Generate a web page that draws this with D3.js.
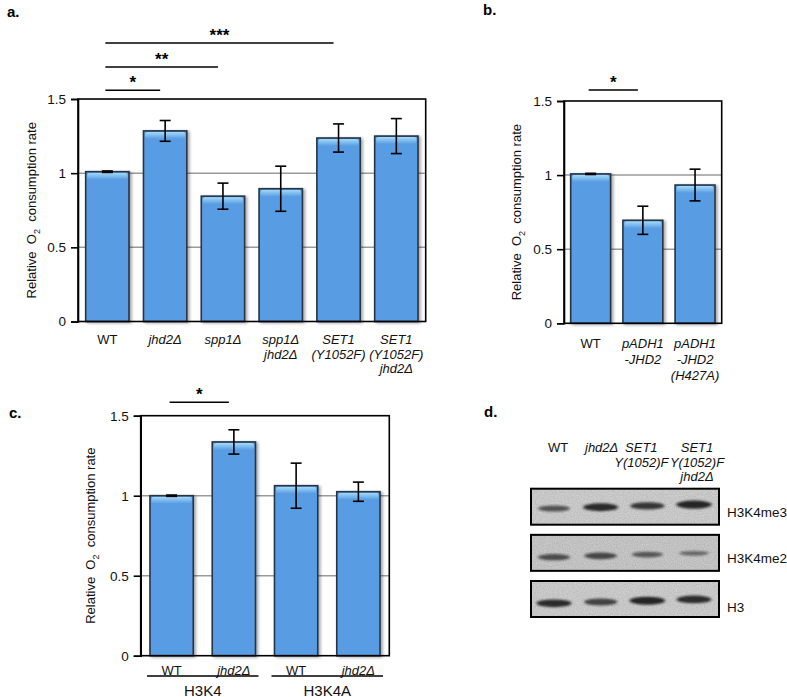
<!DOCTYPE html>
<html><head><meta charset="utf-8">
<script src="https://cdn.jsdelivr.net/npm/d3@7"></script>
<style>
html,body{margin:0;padding:0;background:#fff;}
text{font-family:"Liberation Sans",Arial,sans-serif;}
</style></head>
<body>
<svg id="fig" width="787" height="697"></svg>
<script>
// ---------------- DATA ----------------
const yTicks = [0, 0.5, 1, 1.5];

const aLabels = [["WT"], ["jhd2Δ"], ["spp1Δ"], ["spp1Δ", "jhd2Δ"], ["SET1", "(Y1052F)"], ["SET1", "(Y1052F)", "jhd2Δ"]];
const aValues = [1.01, 1.285, 0.845, 0.895, 1.237, 1.25];
const aErrors = [0.005, 0.07, 0.088, 0.152, 0.095, 0.118];
const aSig = [[0, 1, "*"], [0, 2, "**"], [0, 4, "***"]];

const bLabels = [["WT"], ["pADH1", "-JHD2"], ["pADH1", "-JHD2", "(H427A)"]];
const bValues = [1.008, 0.695, 0.933];
const bErrors = [0.004, 0.095, 0.107];
const bSig = [[0, 1, "*"]];

const cLabels = [["WT"], ["jhd2Δ"], ["WT"], ["jhd2Δ"]];
const cGroups = ["H3K4", "H3K4A"];
const cValues = [1.0, 1.336, 1.0625, 1.025];
const cErrors = [0.004, 0.076, 0.141, 0.06];
const cSig = [[0, 1, "*"]];

const dLanes = [["WT"], ["jhd2Δ"], ["SET1", "Y(1052)F"], ["SET1", "Y(1052)F", "jhd2Δ"]];
const dRows = ["H3K4me3", "H3K4me2", "H3"];
const dIntensity = [
  [0.55, 0.9, 0.8, 0.95],
  [0.6, 0.65, 0.5, 0.3],
  [0.9, 0.7, 0.95, 0.88]
];

const yTitle = ["Relative", "O", "2", "consumption rate"];

// ---------------- DRAWING ----------------
const FS = 13;
const svg = d3.select("#fig");
svg.append("rect").attr("width", 787).attr("height", 697).attr("fill", "#fff");

const defs = svg.append("defs");
const hl = defs.append("linearGradient").attr("id", "hl").attr("x1", 0).attr("x2", 0).attr("y1", 0).attr("y2", 1);
hl.append("stop").attr("offset", "0%").attr("stop-color", "#a4daf9");
hl.append("stop").attr("offset", "100%").attr("stop-color", "#589ce3");
const sh = defs.append("filter").attr("id", "shadow").attr("x", "-20%").attr("y", "-20%").attr("width", "150%").attr("height", "150%");
sh.append("feGaussianBlur").attr("in", "SourceAlpha").attr("stdDeviation", 1.5).attr("result", "b");
sh.append("feOffset").attr("in", "b").attr("dx", 1.5).attr("dy", 1).attr("result", "o");
sh.append("feComponentTransfer").attr("in", "o").attr("result", "o2")
  .append("feFuncA").attr("type", "linear").attr("slope", 0.35);
const shm = sh.append("feMerge");
shm.append("feMergeNode").attr("in", "o2");
shm.append("feMergeNode").attr("in", "SourceGraphic");

const bandBlur = defs.append("filter").attr("id", "bandblur").attr("x", "-30%").attr("y", "-100%").attr("width", "160%").attr("height", "300%");
bandBlur.append("feGaussianBlur").attr("stdDeviation", "1.6 1.2");

const noise = defs.append("filter").attr("id", "noise")
  .attr("filterUnits", "objectBoundingBox").attr("x", 0).attr("y", 0).attr("width", 1).attr("height", 1);
noise.append("feTurbulence").attr("type", "fractalNoise").attr("baseFrequency", 0.9).attr("numOctaves", 2).attr("seed", 3);
noise.append("feColorMatrix").attr("type", "matrix")
  .attr("values", "0 0 0 0 0  0 0 0 0 0  0 0 0 0 0  0 0 0 0.18 0");

function panelLetter(x, y, t) {
  svg.append("text").attr("x", x).attr("y", y).attr("font-size", 15).attr("font-weight", "bold").text(t);
}

function drawPanel(cfg) {
  const g = svg.append("g");
  const y = d3.scaleLinear().domain([0, 1.5]).range([cfg.bottom, cfg.top]);
  const x = d3.scaleBand().domain(d3.range(cfg.values.length)).range([cfg.left, cfg.right])
    .paddingInner(cfg.pi).paddingOuter(cfg.po);

  g.selectAll("line.grid").data(yTicks.filter(d => d > 0 && d < 1.5)).join("line")
    .attr("x1", cfg.left).attr("x2", cfg.right).attr("y1", d => y(d)).attr("y2", d => y(d))
    .attr("stroke", "#9a9a9a").attr("stroke-width", 1.5);

  const bw = x.bandwidth();
  const bars = g.selectAll("g.bar").data(cfg.values).join("g").attr("filter", "url(#shadow)");
  bars.append("rect")
    .attr("x", (d, i) => x(i)).attr("y", d => y(d)).attr("width", bw).attr("height", d => y(0) - y(d))
    .attr("fill", "#589ce3");
  bars.append("rect")
    .attr("x", (d, i) => x(i) + 1.5).attr("y", d => y(d) + 1).attr("width", bw - 3).attr("height", 7)
    .attr("rx", 2.5).attr("fill", "url(#hl)");
  bars.append("rect")
    .attr("x", (d, i) => x(i)).attr("y", d => y(d)).attr("width", bw).attr("height", d => y(0) - y(d))
    .attr("fill", "none").attr("stroke", "#263545").attr("stroke-width", 1.6);

  const eb = g.selectAll("g.err").data(cfg.values).join("g").attr("stroke", "#000").attr("stroke-width", 1.6);
  eb.append("line").attr("x1", (d, i) => x(i) + bw / 2).attr("x2", (d, i) => x(i) + bw / 2)
    .attr("y1", (d, i) => y(d + cfg.errors[i])).attr("y2", (d, i) => y(d - cfg.errors[i]));
  eb.append("line").attr("x1", (d, i) => x(i) + bw / 2 - 5.5).attr("x2", (d, i) => x(i) + bw / 2 + 5.5)
    .attr("y1", (d, i) => y(d + cfg.errors[i])).attr("y2", (d, i) => y(d + cfg.errors[i]));
  eb.append("line").attr("x1", (d, i) => x(i) + bw / 2 - 5.5).attr("x2", (d, i) => x(i) + bw / 2 + 5.5)
    .attr("y1", (d, i) => y(d - cfg.errors[i])).attr("y2", (d, i) => y(d - cfg.errors[i]));

  g.append("rect").attr("x", cfg.left).attr("y", cfg.top).attr("width", cfg.right - cfg.left)
    .attr("height", cfg.bottom - cfg.top).attr("fill", "none").attr("stroke", "#000").attr("stroke-width", 1.6);

  const ax = g.append("g").attr("transform", `translate(${cfg.left},0)`)
    .call(d3.axisLeft(y).tickValues(yTicks).tickFormat(d => String(d)).tickSize(7).tickPadding(5));
  ax.select(".domain").attr("stroke-width", 1.6);
  ax.selectAll(".tick line").attr("stroke-width", 1.6);
  ax.selectAll("text").attr("font-size", 13.5).attr("font-family", "Liberation Sans, Arial, sans-serif").attr("fill", "#111");

  const t = g.append("text").attr("transform", `translate(${cfg.titleX},${(cfg.top + cfg.bottom) / 2 + cfg.titleDy}) rotate(-90)`)
    .attr("text-anchor", "middle").attr("font-size", FS).attr("fill", "#111").attr("xml:space", "preserve");
  t.append("tspan").text(yTitle[0] + "\u00a0\u00a0");
  t.append("tspan").text(yTitle[1]);
  t.append("tspan").attr("font-size", 9).attr("dy", 3.5).text(yTitle[2]);
  t.append("tspan").attr("dy", -3.5).text("\u00a0\u00a0" + yTitle[3]);

  cfg.labels.forEach((lines, i) => {
    lines.forEach((s, k) => {
      g.append("text").attr("x", x(i) + bw / 2).attr("y", cfg.labelY + k * cfg.lineH)
        .attr("text-anchor", "middle").attr("font-size", FS).attr("fill", "#111")
        .attr("font-style", s === "WT" ? "normal" : "italic").text(s);
    });
  });

  cfg.sig.forEach((s, k) => {
    const x1 = x(s[0]) + bw / 2 - 2, x2 = x(s[1]) + bw / 2 - 5;
    const ly = cfg.sigY[k];
    g.append("line").attr("x1", x1).attr("x2", x2).attr("y1", ly).attr("y2", ly).attr("stroke", "#000").attr("stroke-width", 1.6);
    g.append("text").attr("x", (x1 + x2) / 2).attr("y", ly - 2).attr("text-anchor", "middle")
      .attr("font-size", 17).attr("font-weight", "bold").text(s[2]);
  });
  return { x, y, bw };
}

// Panel a
panelLetter(7, 17, "a.");
drawPanel({ values: aValues, errors: aErrors, labels: aLabels, sig: aSig, sigY: [90.3, 67, 43],
  left: 78, right: 425.7, top: 99, bottom: 321.5, pi: 0.25, po: 0.133,
  titleX: 36, titleDy: 0, labelY: 344, lineH: 14.5 });

// Panel b
panelLetter(483, 15, "b.");
drawPanel({ values: bValues, errors: bErrors, labels: bLabels, sig: bSig, sigY: [90],
  left: 564, right: 721.7, top: 101, bottom: 323.3, pi: 0.235, po: 0.128,
  titleX: 521, titleDy: 0, labelY: 348, lineH: 16 });

// Panel c
panelLetter(9, 418, "c.");
const pc = drawPanel({ values: cValues, errors: cErrors, labels: cLabels, sig: cSig, sigY: [402.3],
  left: 140.7, right: 389.3, top: 415.7, bottom: 655.7, pi: 0.305, po: 0.149,
  titleX: 95, titleDy: 0, labelY: 674.5, lineH: 14 });
cGroups.forEach((gname, j) => {
  const xa = pc.x(2 * j) - 3, xb = pc.x(2 * j + 1) + pc.bw + 3;
  svg.append("line").attr("x1", xa).attr("x2", xb).attr("y1", 676).attr("y2", 676).attr("stroke", "#000").attr("stroke-width", 1.4);
  svg.append("text").attr("x", (xa + xb) / 2).attr("y", 695.5).attr("text-anchor", "middle").attr("font-size", 15).attr("fill", "#111").text(gname);
});

// Panel d : western blot
panelLetter(484, 417, "d.");
const laneX = d3.scalePoint().domain(d3.range(dLanes.length)).range([554, 694]);
const labelShift = [4, 1, -6, 3];
const rowY = d3.scaleBand().domain(d3.range(dRows.length)).range([488.7, 617]).paddingInner(0.22);
dLanes.forEach((lines, i) => {
  lines.forEach((s, k) => {
    svg.append("text").attr("x", laneX(i) + labelShift[i]).attr("y", 452 + k * 14.5).attr("text-anchor", "middle")
      .attr("font-size", FS).attr("fill", "#111").attr("font-style", s === "WT" ? "normal" : "italic").text(s);
  });
});
dRows.forEach((r, j) => {
  const y0 = rowY(j), h = rowY.bandwidth();
  const gb = svg.append("g");
  gb.append("rect").attr("x", 531).attr("y", y0).attr("width", 188).attr("height", h).attr("fill", j === 1 ? "#d4d4d4" : "#dadada");
  gb.append("rect").attr("x", 531).attr("y", y0).attr("width", 188).attr("height", h).attr("filter", "url(#noise)");
  const cy = y0 + h * (j === 0 ? 0.55 : 0.62);
  const bands = gb.append("g").attr("filter", "url(#bandblur)");
  dIntensity[j].forEach((v, i) => {
    bands.append("ellipse").attr("cx", laneX(i)).attr("cy", cy - i * 1.3)
      .attr("rx", 13 + 5 * v).attr("ry", 1.6 + 2.6 * v)
      .attr("fill", "#1a1a1a").attr("fill-opacity", 0.35 + 0.6 * v);
  });
  gb.append("rect").attr("x", 531).attr("y", y0).attr("width", 188).attr("height", h)
    .attr("fill", "none").attr("stroke", "#000").attr("stroke-width", 2);
  svg.append("text").attr("x", 727).attr("y", y0 + h * 0.65 + (j === 2 ? 3 : 0) + 5).attr("font-size", 13.5).attr("fill", "#111").text(r);
});
</script>
</body></html>
